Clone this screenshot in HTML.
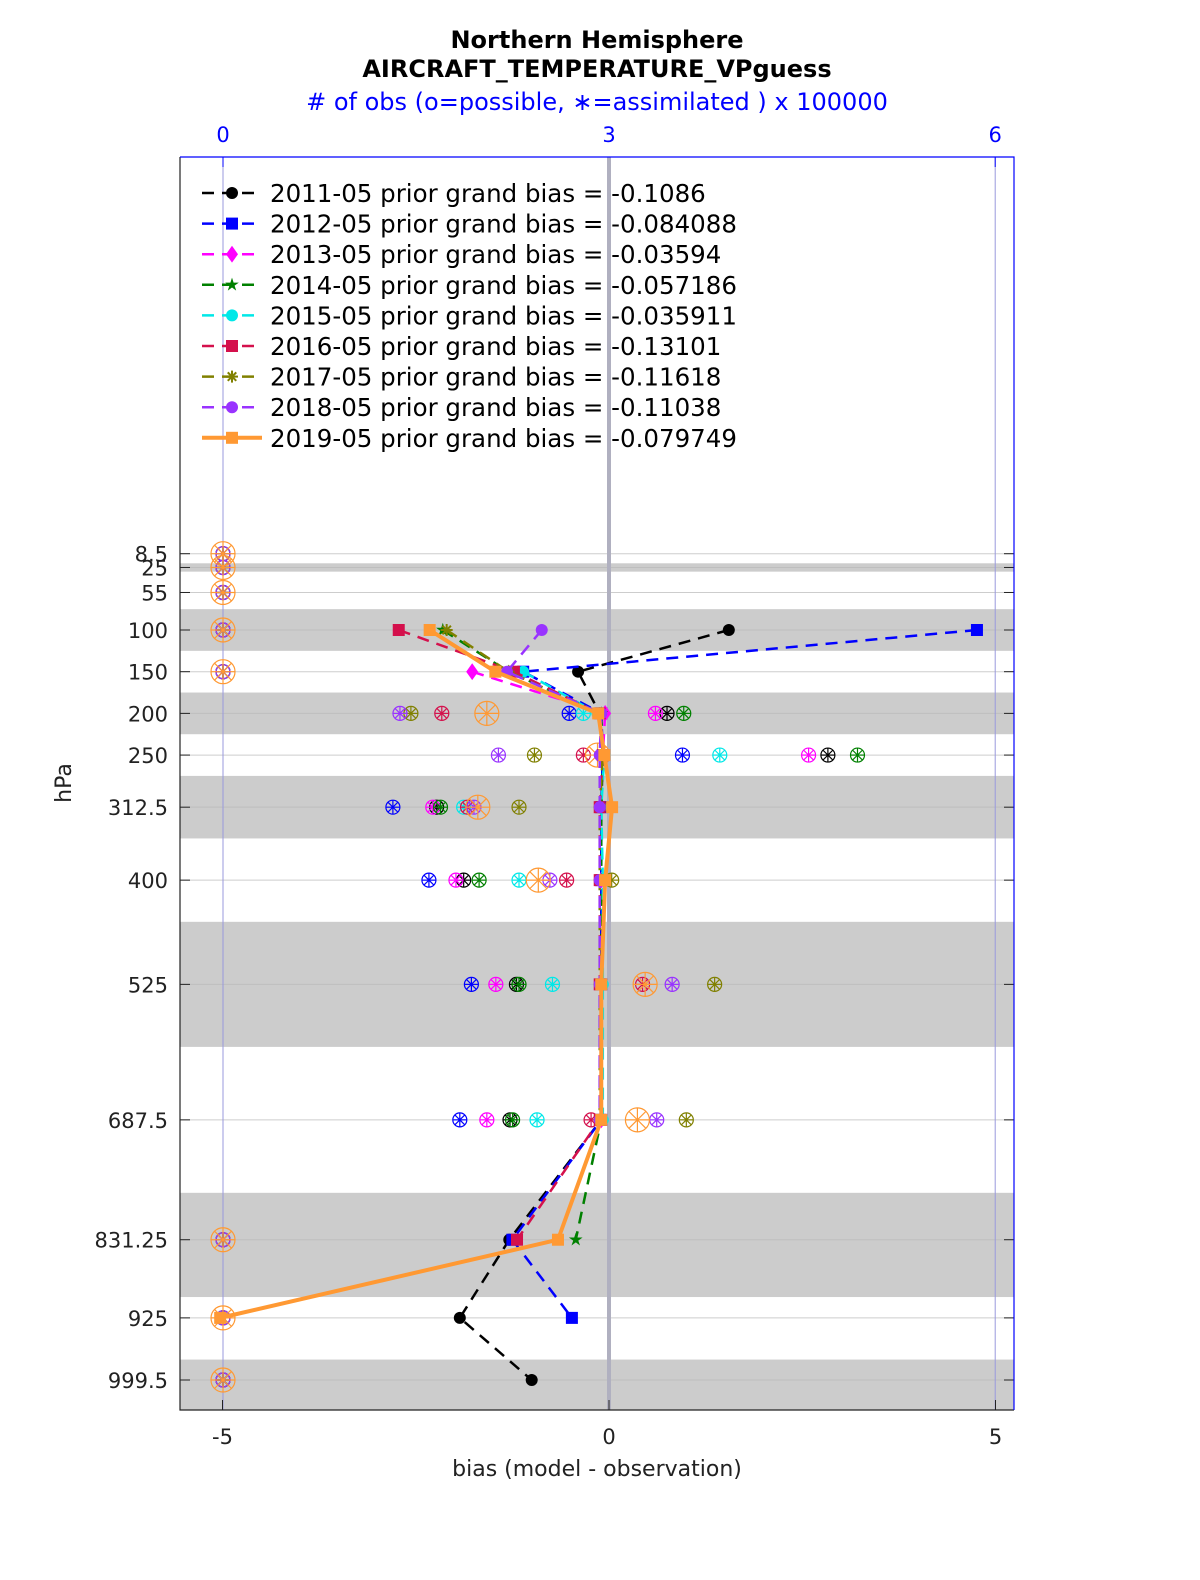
<!DOCTYPE html>
<html><head><meta charset="utf-8"><style>
body{margin:0;background:#fff;}
svg text{font-family:"DejaVu Sans","Liberation Sans",sans-serif;}
</style></head><body>
<svg id="chart" width="1200" height="1575" xmlns="http://www.w3.org/2000/svg">
<text x="597" y="48" text-anchor="middle" font-size="24" font-weight="bold">Northern Hemisphere</text>
<text x="597" y="77" text-anchor="middle" font-size="24" font-weight="bold">AIRCRAFT_TEMPERATURE_VPguess</text>
<text x="597" y="110" text-anchor="middle" font-size="24" fill="#0000ff"># of obs (o=possible, ∗=assimilated ) x 100000</text>
<text x="597" y="1476" text-anchor="middle" font-size="22" fill="#222">bias (model - observation)</text>
<text transform="translate(71,783) rotate(-90)" text-anchor="middle" font-size="22" fill="#222">hPa</text>
<g id="g"></g>
</svg>
<script>
const levels=[8.5,25,55,100,150,200,250,312.5,400,525,687.5,831.25,925,999.5];
const levelLabels=["8.5","25","55","100","150","200","250","312.5","400","525","687.5","831.25","925","999.5"];
const bandEdges=[[20,30],[75,125],[175,225],[275,350],[450,600],[775,900],[975,1050]];
const xTicks=[-5,0,5];
const topTicks=[0,3,6];
const years=["2011-05","2012-05","2013-05","2014-05","2015-05","2016-05","2017-05","2018-05","2019-05"];
const grandBias=["-0.1086","-0.084088","-0.03594","-0.057186","-0.035911","-0.13101","-0.11618","-0.11038","-0.079749"];
const bias2011=[null,null,null,1.55,-0.40,-0.12,-0.08,-0.10,-0.10,-0.10,-0.10,-1.29,-1.93,-1.00];
const bias2012=[null,null,null,4.76,-1.11,-0.10,-0.08,-0.10,-0.10,-0.10,-0.10,-1.25,-0.48,null];
const bias2013=[null,null,null,null,-1.77,-0.05,-0.08,-0.10,-0.10,-0.10,-0.10,null,null,null];
const bias2014=[null,null,null,-2.15,-1.30,-0.10,-0.08,-0.10,-0.10,-0.10,-0.10,-0.43,null,null];
const bias2015=[null,null,null,null,-1.11,-0.15,-0.06,-0.10,-0.08,-0.08,-0.08,null,null,null];
const bias2016=[null,null,null,-2.72,-1.23,-0.12,-0.08,-0.12,-0.12,-0.12,-0.12,-1.19,null,null];
const bias2017=[null,null,null,-2.10,-1.30,-0.12,-0.08,-0.12,-0.12,-0.12,-0.12,null,null,null];
const bias2018=[null,null,null,-0.87,-1.32,-0.10,-0.12,-0.12,-0.12,-0.12,-0.12,null,null,null];
const bias2019=[null,null,null,-2.32,-1.47,-0.14,-0.06,0.04,-0.05,-0.10,-0.10,-0.66,-5.03,null];
const allBias=[bias2011,bias2012,bias2013,bias2014,bias2015,bias2016,bias2017,bias2018,bias2019];
const obs2011=[0,0,0,0,0,3.45,4.70,1.66,1.87,2.28,2.23,0,0,0];
const obs2012=[0,0,0,0,0,2.69,3.57,1.32,1.60,1.93,1.84,0,0,0];
const obs2013=[0,0,0,0,0,3.36,4.55,1.63,1.81,2.12,2.05,0,0,0];
const obs2014=[0,0,0,0,0,3.58,4.93,1.69,1.99,2.30,2.25,0,0,0];
const obs2015=[0,0,0,0,0,2.80,3.86,1.87,2.30,2.56,2.44,0,0,0];
const obs2016=[0,0,0,0,0,1.70,2.80,1.90,2.67,3.26,2.86,0,0,0];
const obs2017=[0,0,0,0,0,1.46,2.42,2.30,3.02,3.82,3.60,0,0,0];
const obs2018=[0,0,0,0,0,1.375,2.14,1.95,2.54,3.49,3.37,0,0,0];
const obs2019=[0,0,0,0,0,2.05,2.91,1.98,2.45,3.28,3.22,0,0,0];
const allObs=[obs2011,obs2012,obs2013,obs2014,obs2015,obs2016,obs2017,obs2018,obs2019];
const colors=["#000000","#0000ff","#ff00ff","#008000","#00e8e8","#d4104c","#808000","#9933ff","#ff9933"];
const markers=["circle","square","diamond","star","circle","square","asterisk","circle","square"];

const L=180,R=1014,T=157,B=1410;
const X=b=>609+b*77.3;
const XO=c=>223+c*128.7;
const Y=p=>630+(p-100)*0.8338;
const NS="http://www.w3.org/2000/svg";
const g=document.getElementById('g');
function mk(tag,attrs,parent){const e=document.createElementNS(NS,tag);for(const k in attrs)e.setAttribute(k,attrs[k]);(parent||g).appendChild(e);return e;}

bandEdges.forEach(([a,b])=>{
 const y1=Math.max(Y(a),T),y2=Math.min(Y(b),B);
 const r=mk('rect',{x:L,y:y1,width:R-L,height:y2-y1,fill:'#cccccc'});
 
 
});
levels.forEach((p,i)=>{
 const l=mk('line',{x1:L,x2:R,y1:Y(p),y2:Y(p),stroke:'#b8b8b8','stroke-width':1,'stroke-opacity':0.7});
 
 
 mk('line',{x1:L,x2:L+10,y1:Y(p),y2:Y(p),stroke:'#222'});
 mk('line',{x1:R,x2:R-10,y1:Y(p),y2:Y(p),stroke:'#222'});
 const t=mk('text',{x:168,y:Y(p)+8,'text-anchor':'end','font-size':21,fill:'#222'});
 t.textContent=levelLabels[i];
 
 
});
topTicks.forEach(c=>{
 const l=mk('line',{x1:XO(c),x2:XO(c),y1:T,y2:B,stroke:'#9999dd','stroke-width':1});
 
 
 mk('line',{x1:XO(c),x2:XO(c),y1:T,y2:T+10,stroke:'#0000ff'});
 const t=mk('text',{x:XO(c),y:142,'text-anchor':'middle','font-size':21,fill:'#0000ff'});
 t.textContent=c;
 
 
});
const z=mk('line',{x1:X(0),x2:X(0),y1:T,y2:B,stroke:'#b0b0c0','stroke-width':4});


xTicks.forEach(b=>{
 mk('line',{x1:X(b),x2:X(b),y1:B,y2:B-10,stroke:'#222'});
 const t=mk('text',{x:X(b),y:1444,'text-anchor':'middle','font-size':21,fill:'#222'});
 t.textContent=b;
 
 
});
function marker(type,x,y,col,s,parent){
 if(type==='circle')return mk('circle',{cx:x,cy:y,r:s,fill:col},parent);
 if(type==='square')return mk('rect',{x:x-s,y:y-s,width:2*s,height:2*s,fill:col},parent);
 if(type==='diamond')return mk('polygon',{points:`${x},${y-s*1.4} ${x+s},${y} ${x},${y+s*1.4} ${x-s},${y}`,fill:col},parent);
 if(type==='star'){let pts=[];for(let k=0;k<10;k++){const a=-Math.PI/2+k*Math.PI/5,r=k%2?s*0.45:s*1.2;pts.push((x+r*Math.cos(a)).toFixed(1)+','+(y+r*Math.sin(a)).toFixed(1));}return mk('polygon',{points:pts.join(' '),fill:col},parent);}
 if(type==='asterisk'){const gg=mk('g',{stroke:col,'stroke-width':2},parent);for(let k=0;k<4;k++){const a=k*Math.PI/4;mk('line',{x1:x-s*Math.cos(a),y1:y-s*Math.sin(a),x2:x+s*Math.cos(a),y2:y+s*Math.sin(a)},gg);}return gg;}
}
allObs.forEach((arr,si)=>{
 const big=si===8;const r=big?12:7;
 arr.forEach((c,i)=>{
  if(c==null)return;
  const gg=mk('g',{stroke:colors[si],'stroke-width':1.2,fill:'none'});
  
  
  const x=XO(c),y=Y(levels[i]);
  mk('circle',{cx:x,cy:y,r:r},gg);
  for(let k=0;k<4;k++){const a=k*Math.PI/4;mk('line',{x1:x-r*Math.cos(a),y1:y-r*Math.sin(a),x2:x+r*Math.cos(a),y2:y+r*Math.sin(a)},gg);}
 });
});
allBias.forEach((arr,si)=>{
 const sg=mk('g',{});
 
 
 let segs=[],cur=[];
 arr.forEach((b,i)=>{if(b==null){if(cur.length)segs.push(cur);cur=[];}else cur.push([X(b),Y(levels[i])]);});
 if(cur.length)segs.push(cur);
 const last=si===8;
 segs.forEach(s=>{
  const pl=mk('polyline',{points:s.map(p=>p.join(',')).join(' '),fill:'none',stroke:colors[si],'stroke-width':last?4:2.5,'stroke-dasharray':last?'none':'12 8'},sg);
  
  
  s.forEach(p=>{const m=marker(markers[si],p[0],p[1],colors[si],6,sg);
   
   });
 });
});
years.forEach((yr,i)=>{
 const y=193+i*30.6;
 const lg=mk('g',{});
 
 
 mk('line',{x1:202,x2:262,y1:y,y2:y,stroke:colors[i],'stroke-width':i===8?4:2.5,'stroke-dasharray':i===8?'none':'12 8'},lg);
 marker(markers[i],232,y,colors[i],6,lg);
 const t=mk('text',{x:270,y:y+9,'font-size':24.5,fill:'#000'},lg);
 t.textContent=yr+' prior grand bias = '+grandBias[i];
});
const bx=mk('path',{d:`M${L},${T} V${B} H${R}`,fill:'none',stroke:'#222','stroke-width':1.2});


mk('path',{d:`M${L},${T} H${R} V${B}`,fill:'none',stroke:'#0000ff','stroke-width':1.2});
</script>
</body></html>
